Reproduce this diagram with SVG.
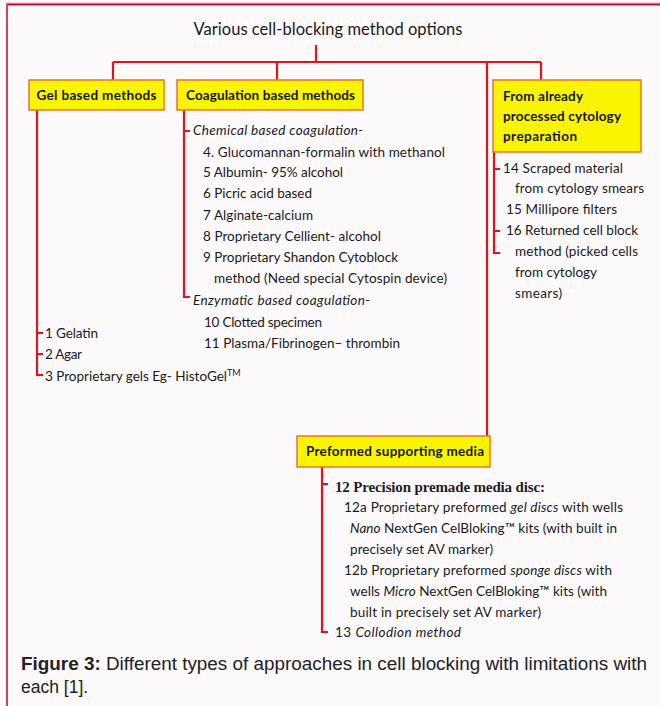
<svg xmlns="http://www.w3.org/2000/svg" width="660" height="706" viewBox="0 0 660 706">
<style>
.t{font-family:Lato,"Liberation Sans",sans-serif;font-size:13.5px;fill:#1a1a1a}
.i{font-style:italic}
.b{font-family:Lato,"Liberation Sans",sans-serif;font-size:13.5px;font-weight:bold;fill:#161616}
.s{font-family:"Liberation Serif",serif;font-size:15px;font-weight:bold;fill:#1e1e1e}
.box{fill:#f9f500;stroke:#e0782e;stroke-width:1.5}
.ln{stroke:#e0141c;stroke-width:2.2;fill:none}
.cap{font-family:"Liberation Sans",Arial,sans-serif;font-size:17.5px;fill:#222}
</style>
<rect width="660" height="706" fill="#fcf9fa"/>
<line x1="6" y1="3" x2="660" y2="3" stroke="#e8b0c0" stroke-width="1"/>
<line x1="6" y1="4.5" x2="660" y2="4.5" stroke="#c4083a" stroke-width="2"/>
<line x1="7" y1="4" x2="7" y2="706" stroke="#d2406c" stroke-width="2"/>
<text x="328" y="35" text-anchor="middle" class="t" style="font-size:16.5px" textLength="269">Various cell-blocking method options</text>
<g id="connectors">
<path class="ln" d="M316 45V62M113 62H541M113 62V80M277 62V80M487 62V436M541 62V80"/>
<path class="ln" d="M37 110V376M37 333H43M37 354H43M37 375H43"/>
<path class="ln" d="M184 110V298M184 131H190M184 297H190"/>
<path class="ln" d="M494 152V254M494 169H500M494 231H500M494 253H500"/>
<path class="ln" d="M322 467V633M322 484H328M322 632H328"/>
</g>
<g id="gel">
<rect class="box" x="29" y="80" width="135" height="30"/>
<text x="96.5" y="100" text-anchor="middle" class="b" textLength="120">Gel based methods</text>
<text x="45" y="338" class="t" textLength="53">1 Gelatin</text>
<text x="45" y="359" class="t" textLength="37">2 Agar</text>
<text x="45" y="381" class="t"><tspan textLength="182">3 Proprietary gels Eg- HistoGel</tspan><tspan dy="-5" style="font-size:9px">TM</tspan></text>
</g>
<g id="coagulation">
<rect class="box" x="177" y="80" width="186" height="30"/>
<text x="270.5" y="100" text-anchor="middle" class="b" textLength="169">Coagulation based methods</text>
<text x="193" y="135" class="t i" textLength="170">Chemical based coagulation-</text>
<text x="203" y="157" class="t" textLength="242">4. Glucomannan-formalin with methanol</text>
<text x="203" y="177" class="t" textLength="140">5 Albumin- 95% alcohol</text>
<text x="203" y="198" class="t" textLength="109">6 Picric acid based</text>
<text x="203" y="220" class="t" textLength="110">7 Alginate-calcium</text>
<text x="203" y="241" class="t" textLength="178">8 Proprietary Cellient- alcohol</text>
<text x="203" y="262" class="t" textLength="195">9 Proprietary Shandon  Cytoblock</text>
<text x="214" y="283" class="t" textLength="233">method (Need special Cytospin device)</text>
<text x="193" y="305" class="t i" textLength="177">Enzymatic based coagulation-</text>
<text x="204" y="327" class="t" textLength="118">10 Clotted specimen</text>
<text x="204" y="348" class="t" textLength="196">11 Plasma/Fibrinogen– thrombin</text>
</g>
<g id="processed">
<rect class="box" x="493" y="80" width="148" height="72"/>
<text x="503" y="101" class="b" textLength="80">From already</text>
<text x="503" y="121" class="b" textLength="118">processed cytology</text>
<text x="503" y="141" class="b" textLength="74">preparation</text>
<text x="503" y="173" class="t" textLength="120">14 Scraped material</text>
<text x="515" y="193" class="t" textLength="129">from cytology smears</text>
<text x="506" y="214" class="t" textLength="111">15 Millipore filters</text>
<text x="506" y="235" class="t" textLength="132">16 Returned cell block</text>
<text x="515" y="256" class="t" textLength="123">method (picked cells</text>
<text x="515" y="277" class="t" textLength="82">from cytology</text>
<text x="515" y="298" class="t" textLength="47">smears)</text>
</g>
<g id="preformed">
<rect class="box" x="297" y="436" width="193" height="31"/>
<text x="306" y="456" class="b" textLength="178">Preformed supporting media</text>
<text x="335" y="492" class="s" textLength="210">12 Precision premade media disc:</text>
<text x="344" y="512" class="t" textLength="279">12a Proprietary preformed <tspan class="i">gel discs</tspan> with wells</text>
<text x="350" y="533" class="t" textLength="267"><tspan class="i">Nano</tspan> NextGen CelBloking™ kits (with built in</text>
<text x="350" y="554" class="t" textLength="143">precisely set AV marker)</text>
<text x="344" y="575" class="t" textLength="268">12b Proprietary preformed <tspan class="i">sponge discs</tspan> with</text>
<text x="350" y="596" class="t" textLength="257">wells <tspan class="i">Micro</tspan> NextGen CelBloking™ kits (with</text>
<text x="350" y="617" class="t" textLength="191">built in precisely set AV marker)</text>
<text x="335" y="637" class="t" textLength="126">13 <tspan class="i">Collodion method</tspan></text>
</g>
<text x="21" y="670" class="cap" textLength="626" lengthAdjust="spacingAndGlyphs"><tspan font-weight="bold">Figure 3:</tspan> Different types of approaches in cell blocking with limitations with</text>
<text x="21" y="693" class="cap">each [1].</text>
</svg>
